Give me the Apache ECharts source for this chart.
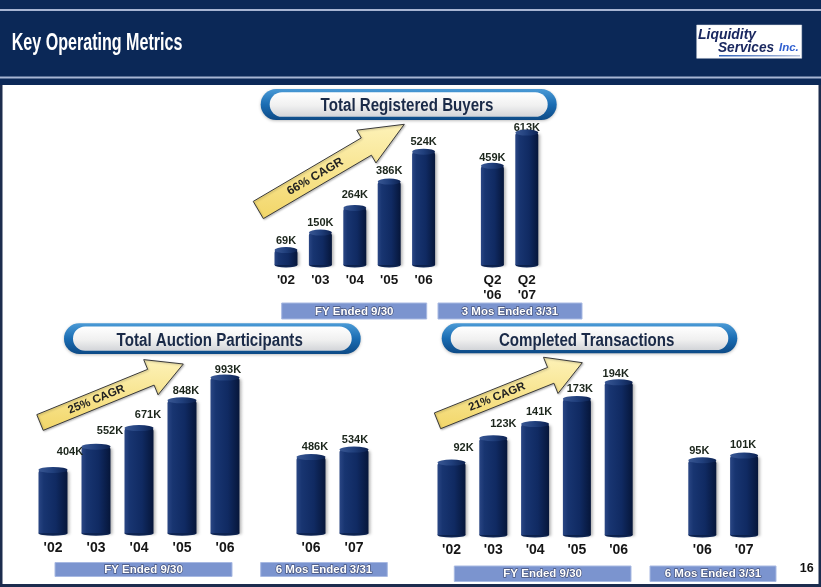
<!DOCTYPE html>
<html><head><meta charset="utf-8">
<script src="https://cdn.jsdelivr.net/npm/echarts/dist/echarts.min.js"></script>
<style>html,body{margin:0;padding:0;background:#fff;}#c{width:821px;height:587px;}</style>
</head><body><div id="c"></div>
<script>
// ---------- data ----------
const buyersCategories = ["'02", "'03", "'04", "'05", "'06", "", "Q2\n'06", "Q2\n'07"];
const buyersValues = [69, 150, 264, 386, 524, null, 459, 613];
const auctionCategories = ["'02", "'03", "'04", "'05", "'06", "", "'06", "'07"];
const auctionValues = [404, 552, 671, 848, 993, null, 486, 534];
const transactionCategories = ["'02", "'03", "'04", "'05", "'06", "", "'06", "'07"];
const transactionValues = [92, 123, 141, 173, 194, null, 95, 101];
const chartTitles = ["Total Registered Buyers", "Total Auction Participants", "Completed Transactions"];
const cagrLabels = ["66% CAGR", "25% CAGR", "21% CAGR"];
const periodLabels = [["FY Ended 9/30", "3 Mos Ended 3/31"], ["FY Ended 9/30", "6 Mos Ended 3/31"], ["FY Ended 9/30", "6 Mos Ended 3/31"]];
const valueSuffix = "K";
const slideTitle = "Key Operating Metrics";
const pageNumber = "16";

// ---------- layout / style ----------
const FONT = '"Liberation Sans", Arial, Helvetica, sans-serif';
const NAVY = '#0b2857';
const panels = [
  { cats: buyersCategories, vals: buyersValues, max: 700, barWidth: 23, labelFont: 11, catFont: 13.5,
    grid: { left: 268.8, top: 113.7, width: 275.2, height: 151.3 },
    pill: { x: 260.7, y: 89, w: 296, h: 31, tx: 407, ty: 106.5 },
    boxes: [[281.7, 303, 145, 16], [438, 303, 144, 16]],
    arrow: { t: [258.3, 210], p: [404.3, 124.3], w: 10, h: 19, L: 44, textAt: 66, fs: 12 },
    offsets: { 2: [0, -3], 3: [0, -1], 6: [0, 2], 7: [0, 5] } },
  { cats: auctionCategories, vals: auctionValues, max: 1100, barWidth: 29, labelFont: 11, catFont: 14,
    grid: { left: 31.5, top: 360.8, width: 344, height: 172.5 },
    pill: { x: 64, y: 323.3, w: 296.7, h: 30.7, tx: 209.7, ty: 341 },
    boxes: [[55, 562.5, 177, 14], [260.7, 562.5, 126.6, 14]],
    arrow: { t: [40, 422.5], p: [183.3, 364], w: 8.5, h: 19, L: 35, textAt: 61, fs: 11.5 },
    offsets: { 0: [17, -8], 1: [14, -6], 2: [9, -4], 3: [4, 0], 4: [3, 2], 6: [4, -1], 7: [1, 0] } },
  { cats: transactionCategories, vals: transactionValues, max: 220, barWidth: 28, labelFont: 11, catFont: 14,
    grid: { left: 430.6, top: 361.9, width: 334.4, height: 173.1 },
    pill: { x: 441.7, y: 323.3, w: 295.6, h: 30, tx: 586.7, ty: 341 },
    boxes: [[454.3, 566, 176.7, 15.5], [650, 566, 126, 15.5]],
    arrow: { t: [437.5, 420.8], p: [582.3, 362.7], w: 8.5, h: 19.5, L: 34, textAt: 64, fs: 11.5 },
    offsets: { 0: [12, -5], 1: [10, -5], 2: [4, -3], 3: [3, 0], 4: [-3, 1], 6: [-3, 0], 7: [-1, -1] } }
];

const barGradient = { type: 'linear', x: 0, y: 0, x2: 1, y2: 0, colorStops: [
  { offset: 0, color: '#2a4684' }, { offset: 0.18, color: '#183571' },
  { offset: 0.6, color: '#102a62' }, { offset: 1, color: '#06163a' }] };

const grids = [], xAxes = [], yAxes = [], series = [];
panels.forEach((pn, i) => {
  grids.push(Object.assign({ containLabel: false }, pn.grid));
  xAxes.push({ type: 'category', gridIndex: i, data: pn.cats,
    axisLine: { show: false }, axisTick: { show: false }, splitLine: { show: false },
    axisLabel: { interval: 0, margin: 7.5, fontSize: pn.catFont, fontWeight: 'bold', color: '#161616',
      fontFamily: FONT, lineHeight: 15 } });
  yAxes.push({ type: 'value', gridIndex: i, min: 0, max: pn.max, show: false, splitLine: { show: false } });
  const barData = pn.vals.map((v, k) => {
    if (v === null) return '-';
    const o = { value: v };
    if (pn.offsets[k]) o.label = { offset: pn.offsets[k] };
    return o;
  });
  series.push({ type: 'bar', xAxisIndex: i, yAxisIndex: i, data: barData, barWidth: pn.barWidth, z: 2,
    itemStyle: { color: barGradient, borderRadius: [3, 3, 0, 0],
      shadowColor: 'rgba(0,0,0,0.28)', shadowBlur: 3, shadowOffsetX: 2, shadowOffsetY: 1 },
    label: { show: true, position: 'top', distance: 4, formatter: p => p.value + valueSuffix,
      fontSize: pn.labelFont, fontWeight: 'bold', color: '#1c261c', fontFamily: FONT } });
  series.push({ type: 'pictorialBar', xAxisIndex: i, yAxisIndex: i, data: pn.vals.map(v => v === null ? '-' : v),
    symbol: 'circle', symbolSize: [pn.barWidth, 6], symbolPosition: 'end', symbolOffset: [0, '-50%'], z: 3,
    itemStyle: { color: { type: 'linear', x: 0, y: 0, x2: 1, y2: 0, colorStops: [
      { offset: 0, color: '#3a5894' }, { offset: 0.5, color: '#203f7c' }, { offset: 1, color: '#0c2150' }] } },
    silent: true });
  series.push({ type: 'pictorialBar', xAxisIndex: i, yAxisIndex: i, data: pn.vals.map(v => v === null ? '-' : v),
    symbol: 'circle', symbolSize: [pn.barWidth, 5], symbolPosition: 'start', symbolOffset: [0, '50%'], z: 1,
    itemStyle: { color: '#0f285c' }, silent: true });
});

// ---------- decorations ----------
function txt(x, y, text, o) {
  return Object.assign({ type: 'text', x: x, y: y, z: 50,
    style: Object.assign({ text: text, fontFamily: FONT, textAlign: 'center', textVerticalAlign: 'middle',
      align: 'center', verticalAlign: 'middle' }, o.style) }, o.el || {});
}
function arrowPoints(a) {
  const dx = a.p[0] - a.t[0], dy = a.p[1] - a.t[1], len = Math.hypot(dx, dy);
  const u = [dx / len, dy / len], n = [-u[1], u[0]];
  const b = [a.p[0] - u[0] * a.L, a.p[1] - u[1] * a.L];
  const P = (c, s) => [c[0] + n[0] * s, c[1] + n[1] * s];
  return { pts: [P(a.t, a.w), P(b, a.w), P(b, a.h), a.p, P(b, -a.h), P(b, -a.w), P(a.t, -a.w)],
    u: u, angle: Math.atan2(-dy, dx) };
}

const graphic = [];
graphic.push({ type: 'rect', shape: { x: 0, y: 0, width: 821, height: 85 }, style: { fill: NAVY }, z: 10 });
graphic.push({ type: 'rect', shape: { x: 0, y: 9, width: 821, height: 2 }, style: { fill: '#a7b5d3' }, z: 11 });
graphic.push({ type: 'rect', shape: { x: 0, y: 76.5, width: 821, height: 2 }, style: { fill: '#a7b5d3' }, z: 11 });
graphic.push({ type: 'rect', shape: { x: 0, y: 85, width: 2.5, height: 502 }, style: { fill: '#1c2c4e' }, z: 11 });
graphic.push({ type: 'rect', shape: { x: 818.5, y: 85, width: 2.5, height: 502 }, style: { fill: '#1c2c4e' }, z: 11 });
graphic.push({ type: 'rect', shape: { x: 0, y: 584, width: 821, height: 3 }, style: { fill: '#1c2c4e' }, z: 11 });
graphic.push(txt(11.7, 43.5, slideTitle, { el: { scaleX: 0.67 },
  style: { fill: '#ffffff', fontSize: 24, fontWeight: 'bold', textAlign: 'left', align: 'left' } }));
// logo
graphic.push({ type: 'rect', shape: { x: 696.7, y: 25, width: 105, height: 33.3 }, style: { fill: '#ffffff', stroke: '#d8dce6', lineWidth: 0.5 }, z: 20 });
graphic.push(txt(698, 35, 'Liquidity', { el: { scaleX: 0.9 }, style: { fill: '#1a2860', fontSize: 15.5, fontWeight: 'bold', fontStyle: 'italic', textAlign: 'left', align: 'left' } }));
graphic.push(txt(718, 47.3, 'Services', { el: { scaleX: 0.88 }, style: { fill: '#1a2860', fontSize: 15.5, fontWeight: 'bold', fontStyle: 'italic', textAlign: 'left', align: 'left' } }));
graphic.push(txt(779, 48, 'Inc.', { style: { fill: '#2f5fd0', fontSize: 11.5, fontWeight: 'bold', fontStyle: 'italic', textAlign: 'left', align: 'left' } }));
graphic.push({ type: 'rect', shape: { x: 719, y: 55, width: 81, height: 1.4 }, z: 21,
  style: { fill: { type: 'linear', x: 0, y: 0, x2: 1, y2: 0, colorStops: [{ offset: 0, color: '#2d5fb8' }, { offset: 1, color: '#b7c3dd' }] } } });

panels.forEach((pn, i) => {
  const pl = pn.pill;
  graphic.push({ type: 'rect', shape: { x: pl.x, y: pl.y, width: pl.w, height: pl.h, r: pl.h / 2 }, z: 20,
    style: { fill: { type: 'linear', x: 0, y: 0, x2: 0, y2: 1, colorStops: [
      { offset: 0, color: '#4a9ad6' }, { offset: 0.5, color: '#1b6db3' }, { offset: 1, color: '#0d4a86' }] },
      shadowColor: 'rgba(0,0,0,0.25)', shadowBlur: 3, shadowOffsetY: 1 } });
  graphic.push({ type: 'rect', shape: { x: pl.x + 9, y: pl.y + 3.2, width: pl.w - 18, height: pl.h - 6.4, r: (pl.h - 6.4) / 2 }, z: 21,
    style: { fill: { type: 'linear', x: 0, y: 0, x2: 0, y2: 1, colorStops: [
      { offset: 0, color: '#ffffff' }, { offset: 0.55, color: '#f0f0f0' }, { offset: 1, color: '#d2d4d8' }] } } });
  graphic.push(txt(pl.tx, pl.ty, chartTitles[i], { el: { scaleX: 0.84, z: 22 },
    style: { fill: '#1a2a48', fontSize: 18, fontWeight: 'bold' } }));
  pn.boxes.forEach((b, k) => {
    graphic.push({ type: 'rect', shape: { x: b[0], y: b[1], width: b[2], height: b[3] }, z: 20,
      style: { fill: '#7b94cf', stroke: '#a8b9e2', lineWidth: 1 } });
    graphic.push(txt(b[0] + b[2] / 2, b[1] + b[3] / 2 + 0.5, periodLabels[i][k], { el: { z: 22 },
      style: { fill: '#ffffff', fontSize: 11.5, fontWeight: 'bold', stroke: '#45527a', lineWidth: 1.3 } }));
  });
  const ar = arrowPoints(pn.arrow);
  graphic.push({ type: 'polygon', shape: { points: ar.pts }, z: 30,
    style: { fill: { type: 'linear', x: 0, y: 0, x2: 0, y2: 1, colorStops: [
      { offset: 0, color: '#fdf2b8' }, { offset: 1, color: '#f2d668' }] }, stroke: '#3a3a3a', lineWidth: 1,
      shadowColor: 'rgba(0,0,0,0.25)', shadowBlur: 2, shadowOffsetX: 1, shadowOffsetY: 1 } });
  const tc = [pn.arrow.t[0] + ar.u[0] * pn.arrow.textAt, pn.arrow.t[1] + ar.u[1] * pn.arrow.textAt];
  graphic.push(txt(tc[0], tc[1], cagrLabels[i], { el: { rotation: ar.angle, z: 31 },
    style: { fill: '#222222', fontSize: pn.arrow.fs, fontWeight: 'bold' } }));
});
graphic.push(txt(806.7, 568.3, pageNumber, { style: { fill: '#111111', fontSize: 12.5, fontWeight: 'bold' } }));

const chart = echarts.init(document.getElementById('c'), null, { renderer: 'canvas' });
chart.setOption({
  backgroundColor: '#ffffff',
  animation: false,
  grid: grids, xAxis: xAxes, yAxis: yAxes, series: series,
  graphic: { elements: graphic }
});
</script>
</body></html>
